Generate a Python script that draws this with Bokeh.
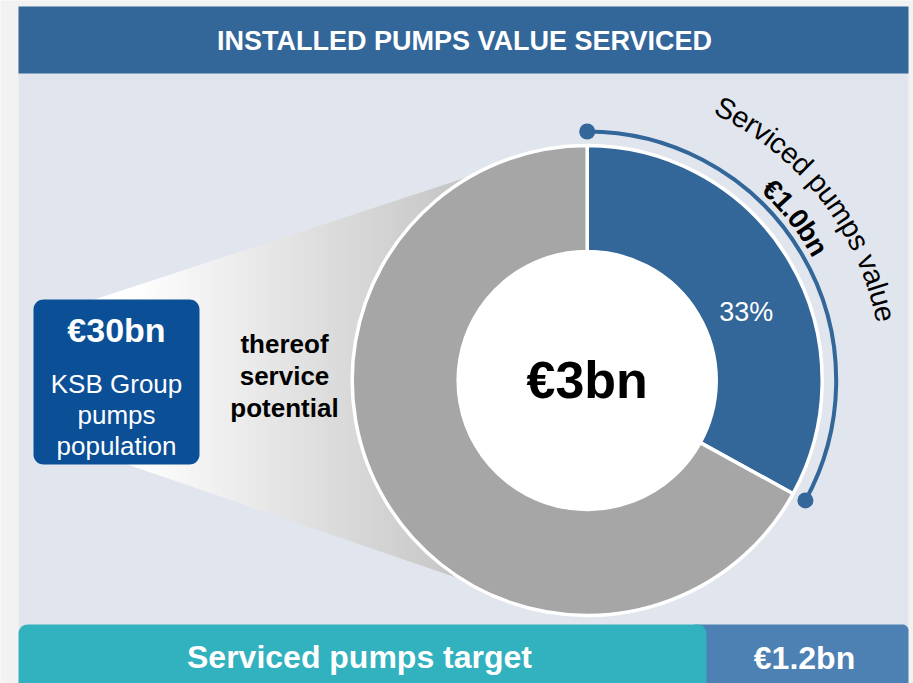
import math
import numpy as np
from bokeh.plotting import figure
from bokeh.models import Range1d
from bokeh.core.properties import value
from bokeh.embed import file_html
from bokeh.resources import INLINE

# ---------------- data ----------------
title = "INSTALLED PUMPS VALUE SERVICED"
segments = ["Serviced", "Not serviced"]
shares = [33, 67]                      # percent of service potential
segment_colors = ["#336699", "#a6a6a6"]
service_potential = "€3bn"
serviced_value_label = "Serviced pumps value"
serviced_value = "€1.0bn"
population_value = "€30bn"
population_lines = ["KSB Group", "pumps", "population"]
potential_lines = ["thereof", "service", "potential"]
target_label = "Serviced pumps target"
target_value = "€1.2bn"

W, H = 913, 683
FONT = value("Liberation Sans")


def Y(py):
    return H - py


p = figure(width=W, height=H, output_backend="svg", toolbar_location=None,
           x_range=Range1d(0, W), y_range=Range1d(0, H), min_border=0)
p.axis.visible = False
p.grid.visible = False
p.outline_line_color = None
p.background_fill_color = "#f2f2f2"
p.border_fill_color = "#f2f2f2"


def rounded_rect(x0, y0, x1, y1, r, corners=(True, True, True, True)):
    # corners: top-left, top-right, bottom-right, bottom-left (pixel coords, y down)
    xs, ys = [], []
    specs = [
        (x0 + r, y0 + r, math.pi, 1.5 * math.pi, corners[0], (x0, y0)),
        (x1 - r, y0 + r, 1.5 * math.pi, 2 * math.pi, corners[1], (x1, y0)),
        (x1 - r, y1 - r, 0, 0.5 * math.pi, corners[2], (x1, y1)),
        (x0 + r, y1 - r, 0.5 * math.pi, math.pi, corners[3], (x0, y1)),
    ]
    for ccx, ccy, a0, a1, rounded, pt in specs:
        if rounded:
            for t in np.linspace(a0, a1, 10):
                xs.append(ccx + r * math.cos(t))
                ys.append(Y(ccy + r * math.sin(t)))
        else:
            xs.append(pt[0])
            ys.append(Y(pt[1]))
    return xs, ys


# panel
xs, ys = rounded_rect(18, 6, 908, 640, 8)
p.patch(xs, ys, fill_color="#e1e6ee", line_color=None)
# header
p.quad(left=18, right=908, top=Y(6), bottom=Y(73), fill_color="#336699", line_color=None)
p.text(x=[464], y=[Y(40)], text=[title], text_font=FONT, text_font_size="27px",
       text_font_style="bold", text_color="white", text_align="center", text_baseline="middle")

# gradient funnel
cx, cy = 586.7, 380.0
xg = np.arange(90, 472, 2.0)
strip_xs, strip_ys, strip_cols = [], [], []
for x in xg:
    xa, xb = x, x + 2.6
    ua = 297 - 0.3278 * (xa - 100)
    ub = 297 - 0.3278 * (xb - 100)
    la = 465 + 0.34375 * (xa - 130)
    lb = 465 + 0.34375 * (xb - 130)
    t = min(max((x - 130) / (465 - 130), 0), 1)
    g = int(round(255 - t * (255 - 196)))
    strip_xs.append([xa, xb, xb, xa])
    strip_ys.append([Y(ua), Y(ub), Y(lb), Y(la)])
    strip_cols.append("#%02x%02x%02x" % (g, g, g))
p.patches(strip_xs, strip_ys, fill_color=strip_cols, line_color=None)

# population box
xs, ys = rounded_rect(33, 299, 199, 464, 10)
p.patch(xs, ys, fill_color="#0b4f96", line_color=None)
p.text(x=[116], y=[Y(329)], text=[population_value], text_font=FONT, text_font_size="34px",
       text_font_style="bold", text_color="white", text_align="center", text_baseline="middle")
p.text(x=[116] * 3, y=[Y(383), Y(414), Y(445)], text=population_lines, text_font=FONT,
       text_font_size="26px", text_color="white", text_align="center", text_baseline="middle")

# thereof service potential
p.text(x=[284] * 3, y=[Y(343), Y(375), Y(407)], text=potential_lines, text_font=FONT,
       text_font_size="26px", text_font_style="bold", text_color="black",
       text_align="center", text_baseline="middle")

# donut
total = sum(shares)
starts, ends = [], []
a = math.pi / 2
for s in shares:
    span = 2 * math.pi * s / total
    ends.append(a)
    starts.append(a - span)
    a -= span
p.annular_wedge(x=[cx] * 2, y=[Y(cy)] * 2, inner_radius=129, outer_radius=235,
                start_angle=starts, end_angle=ends, fill_color=segment_colors,
                line_color="white", line_width=3.5)
p.circle(x=[cx], y=[Y(cy)], radius=129, fill_color="white", line_color="white", line_width=2)
p.text(x=[cx], y=[Y(379)], text=[service_potential], text_font=FONT, text_font_size="52px",
       text_font_style="bold", text_color="black", text_align="center", text_baseline="middle")

# percent label in blue segment
mid = (starts[0] + ends[0]) / 2 - math.radians(7.4)
rl = 173
p.text(x=[cx + rl * math.cos(mid)], y=[Y(cy) + rl * math.sin(mid)],
       text=["%d%%" % shares[0]], text_font=FONT, text_font_size="27px",
       text_color="white", text_align="center", text_baseline="middle")

# bracket arc with dots
ra = 249
p.arc(x=[cx], y=[Y(cy)], radius=ra, start_angle=starts[0], end_angle=ends[0],
      line_color="#336699", line_width=4)
p.scatter(x=[cx + ra * math.cos(ends[0]), cx + ra * math.cos(starts[0])],
          y=[Y(cy) + ra * math.sin(ends[0]), Y(cy) + ra * math.sin(starts[0])],
          size=16, fill_color="#336699", line_color=None)

# curved text
REG = {" ": 278, "S": 667, "e": 556, "r": 333, "v": 500, "i": 222, "c": 500, "d": 556,
       "p": 556, "u": 556, "m": 833, "s": 500, "a": 556, "l": 222}
BOLD = {"€": 556, "1": 556, ".": 278, "0": 556, "b": 611, "n": 611}


def curved(text, widths, fs, R, center_deg, bold):
    ws = [widths[ch] * fs / 1000.0 for ch in text]
    total_w = sum(ws)
    th0 = math.radians(center_deg) + (total_w / 2) / R
    xs, ys, ts, angs = [], [], [], []
    acc = 0.0
    for ch, w in zip(text, ws):
        s = acc + w / 2
        acc += w
        if ch == " ":
            continue
        th = th0 - s / R
        xs.append(cx + R * math.cos(th))
        ys.append(Y(cy) + R * math.sin(th))
        ts.append(ch)
        angs.append(th - math.pi / 2)
    p.text(x=xs, y=ys, text=ts, angle=angs, text_font=FONT, text_font_size="%dpx" % fs,
           text_font_style="bold" if bold else "normal", text_color="black",
           text_align="center", text_baseline="middle")


curved(serviced_value_label, REG, 29, 305, 38.0, False)
curved(serviced_value, BOLD, 28, 266, 38.0, True)

# bottom bars
xs, ys = rounded_rect(690, 624, 908, 700, 6)
p.patch(xs, ys, fill_color="#4d80b3", line_color=None)
xs, ys = rounded_rect(18, 624, 706, 700, 9)
p.patch(xs, ys, fill_color="#32b1be", line_color=None)
p.text(x=[359], y=[Y(656)], text=[target_label], text_font=FONT, text_font_size="32px",
       text_font_style="bold", text_color="white", text_align="center", text_baseline="middle")
p.text(x=[804], y=[Y(657)], text=[target_value], text_font=FONT, text_font_size="32px",
       text_font_style="bold", text_color="white", text_align="center", text_baseline="middle")

open("out.html", "w").write(file_html(p, INLINE))
